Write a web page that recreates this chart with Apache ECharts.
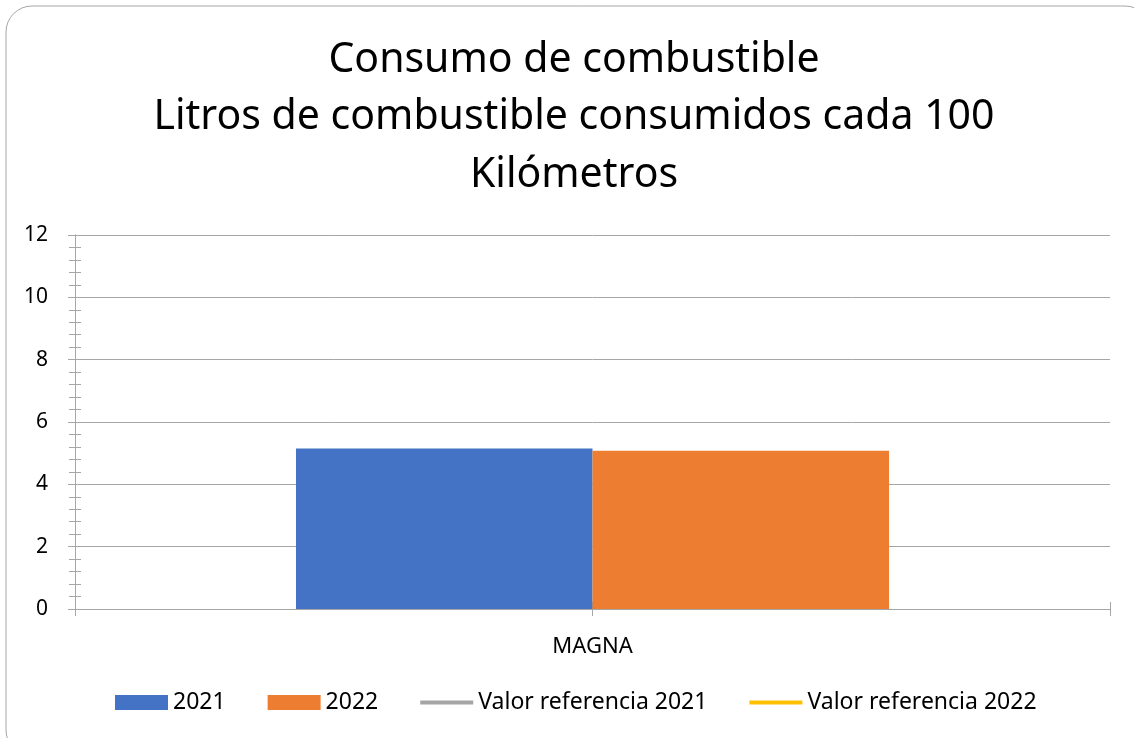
<!DOCTYPE html>
<html>
<head>
<meta charset="utf-8">
<script src="https://cdn.jsdelivr.net/npm/echarts@6/dist/echarts.min.js"></script>
<style>html,body{margin:0;padding:0;background:#fff;}#c{width:1134px;height:738px;}</style>
</head>
<body>
<div id="c"></div>
<script>
const titleLines = ['Consumo de combustible', 'Litros de combustible consumidos cada 100', 'Kilómetros'];
const categories = ['MAGNA'];
const seriesNames = ['2021', '2022', 'Valor referencia 2021', 'Valor referencia 2022'];
const values2021 = [5.15];
const values2022 = [5.08];
const ref2021 = [];
const ref2022 = [];
const yMin = 0, yMax = 12, yInterval = 2;

const FONT = 'Noto Sans';
const axisGray = '#a6a6a6';
const chart = echarts.init(document.getElementById('c'));

function yAx(inside, showLabel) {
  return {
    type: 'value', min: yMin, max: yMax, interval: yInterval, position: 'left',
    axisLine: {show: true, lineStyle: {color: axisGray, width: 1}},
    axisTick: {show: true, inside: inside, length: 7, lineStyle: {color: axisGray}},
    minorTick: {show: true, splitNumber: 5, length: 6, lineStyle: {color: axisGray}},
    axisLabel: {show: showLabel, color: '#000', fontFamily: FONT, fontSize: 21, margin: 27, padding: [6, 0, 0, 0]},
    splitLine: {show: showLabel, lineStyle: {color: '#a6a6a6', width: 1}},
    minorSplitLine: {show: false}
  };
}
function xAx(inside, showLabel, align) {
  return {
    type: 'category', data: categories, position: 'bottom',
    axisLine: {show: true, lineStyle: {color: axisGray, width: 1}},
    axisTick: {show: true, inside: inside, length: 7, alignWithLabel: align, lineStyle: {color: axisGray}},
    axisLabel: {show: showLabel, color: '#000', fontFamily: FONT, fontSize: 22, margin: 27},
    splitLine: {show: false}
  };
}

const lineIcon = 'path://M0,0L0.01,0L0.01,0.01Z M0,5.5H53V9.5H0Z M0,15L0.01,15L0.01,15.01Z';

const titleGraphics = titleLines.map((t, i) => ({
  type: 'text', x: 574, y: 60 + i * 57.5, silent: true,
  style: {text: t, fill: '#000', font: '41px "Noto Sans"', textAlign: 'center', textVerticalAlign: 'middle'}
}));

chart.setOption({
  animation: false,
  backgroundColor: '#fff',
  graphic: [{
    type: 'rect', shape: {x: 6, y: 6, width: 1145, height: 750, r: 26},
    style: {fill: 'none', stroke: '#a6a6a6', lineWidth: 1}, z: -10
  }].concat(titleGraphics),
  grid: {left: 75, right: 24, top: 235, bottom: 129, containLabel: false},
  xAxis: [xAx(false, true, true), xAx(true, false, true), xAx(false, false, false), xAx(true, false, false)],
  yAxis: [yAx(false, true), yAx(true, false)],
  legend: {
    bottom: 24, left: 115, padding: 0, itemWidth: 53, itemHeight: 15, itemGap: 42,
    textStyle: {color: '#000', fontFamily: FONT, fontSize: 23, padding: [0, 0, 0, 0]},
    data: [
      {name: seriesNames[0], icon: 'rect'},
      {name: seriesNames[1], icon: 'rect'},
      {name: seriesNames[2], icon: lineIcon},
      {name: seriesNames[3], icon: lineIcon}
    ]
  },
  series: [
    {name: seriesNames[0], type: 'bar', data: values2021, itemStyle: {color: '#4472c4'}, barGap: '0%', barCategoryGap: '42.7%'},
    {name: seriesNames[1], type: 'bar', data: values2022, itemStyle: {color: '#ed7d31'}, barGap: '0%', barCategoryGap: '42.7%'},
    {name: seriesNames[2], type: 'line', data: ref2021, symbol: 'none', lineStyle: {color: '#a5a5a5', width: 4}, itemStyle: {color: '#a5a5a5'}},
    {name: seriesNames[3], type: 'line', data: ref2022, symbol: 'none', lineStyle: {color: '#ffc000', width: 4}, itemStyle: {color: '#ffc000'}}
  ]
});
</script>
</body>
</html>
